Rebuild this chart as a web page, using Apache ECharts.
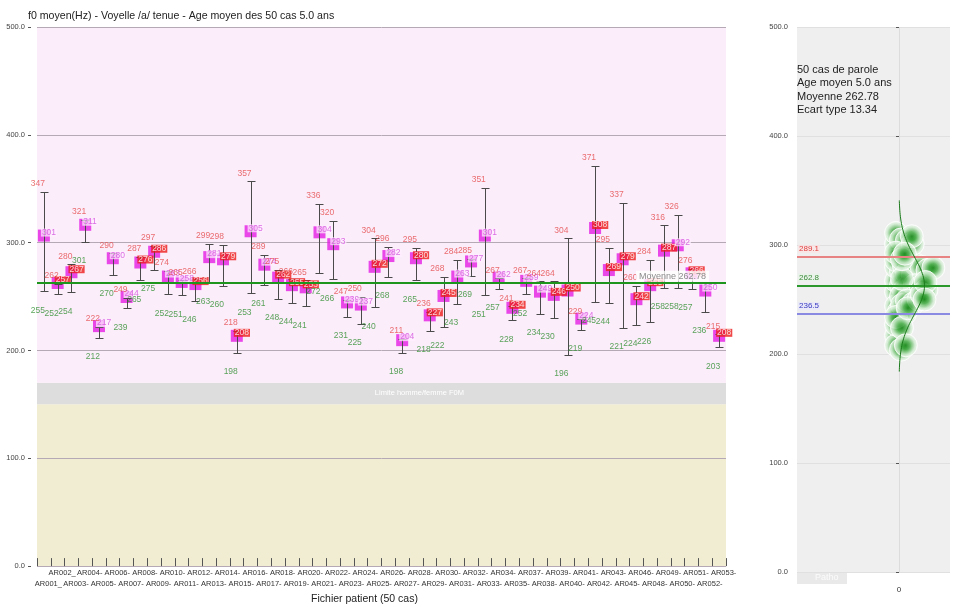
<!DOCTYPE html>
<html><head><meta charset="utf-8">
<script src="https://cdn.jsdelivr.net/npm/echarts@6/dist/echarts.min.js"></script>
<style>html,body{margin:0;padding:0;background:#fff}#c{width:953px;height:610px}</style>
</head><body><div id="c"></div>
<script>
// ---------- data ----------
const categories = ['AR001_','AR002_','AR003-','AR004-','AR005-','AR006-','AR007-','AR008-','AR009-','AR010-',
  'AR011-','AR012-','AR013-','AR014-','AR015-','AR016-','AR017-','AR018-','AR019-','AR020-',
  'AR021-','AR022-','AR023-','AR024-','AR025-','AR026-','AR027-','AR028-','AR029-','AR030-',
  'AR031-','AR032-','AR033-','AR034-','AR035-','AR037-','AR038-','AR039-','AR040-','AR041-',
  'AR042-','AR043-','AR045-','AR046-','AR048-','AR049-','AR050-','AR051-','AR052-','AR053-'];
const maxValues  = [347,262,280,321,222,290,249,287,297,274, 265,266,299,298,218,357,289,275,266,265,
  336,320,247,250,304,296,211,295,236,268, 284,285,351,267,241,267,264,264,304,229,
  371,295,337,260,284,316,326,276,263,215];
const minValues  = [255,252,254,301,212,270,239,265,275,252, 251,246,263,260,198,253,261,248,244,241,
  272,266,231,225,240,268,198,265,218,222, 243,269,251,257,228,252,234,230,196,219,
  245,244,221,224,226,258,258,257,236,203];
const meanValues = [301,257,267,311,217,280,244,276,286,263, 258,256,281,279,208,305,274,262,255,253,
  304,293,239,237,272,282,204,280,227,245, 263,277,301,262,234,259,249,246,250,224,
  308,269,279,242,255,287,292,266,250,208];
// 'R' = red value tag, 'M' = magenta value tag
const meanGroup = ['M','R','R','M','M','M','M','R','R','M', 'M','R','M','R','R','M','M','R','R','R',
  'M','M','M','M','R','M','M','R','R','R', 'M','M','M','M','R','M','M','R','R','M',
  'R','R','R','R','R','R','M','R','M','R'];
const zoneLimits = [0, 150, 170, 500];
const zoneText = 'Limite homme/femme F0M';
const overallMean = 262.78;
const upperLine = 289.1;
const meanLineLabel = 262.8;
const lowerLine = 236.5;
const stdDev = 13.34;
const caseCount = 50;
const ageMean = '5.0';
const yTicks = [0, 100, 200, 300, 400, 500];

// ---------- chart ----------
const FONT = 'Liberation Sans';
const chart = echarts.init(document.getElementById('c'));

const zoneData = [];
for (let k = 0; k < zoneLimits.length - 1; k++) zoneData.push([zoneLimits[k], zoneLimits[k + 1]]);
const zoneColors = ['#f1edd3', '#dddddd', '#fcedfb'];

// beeswarm layout of the means (pixel units on the right panel)
const pxPerUnit = 545 / 500;
function swarm(vals, minDist) {
  const placed = [];
  return vals.map(v => {
    const y = v * pxPerUnit;
    let dx = 0;
    for (let k = 0; k < 300; k++) {
      if (placed.every(p => Math.hypot(p[0] - dx, p[1] - y) >= minDist)) break;
      dx += 1;
    }
    placed.push([dx, y]);
    return [dx - 3, v];
  });
}
const swarmData = swarm(meanValues, 6);

// normal curve drawn from the shown mean and band
const sigma = (upperLine - lowerLine) / 2;
const curveData = [];
for (let v = overallMean - 3 * sigma; v <= overallMean + 3 * sigma + 0.01; v += 1) {
  curveData.push([26 * Math.exp(-Math.pow(v - overallMean, 2) / (2 * sigma * sigma)), v]);
}

const option = {
  animation: false,
  backgroundColor: '#ffffff',
  textStyle: { fontFamily: FONT },
  title: [
    { text: 'f0 moyen(Hz) - Voyelle /a/ tenue - Age moyen des ' + caseCount + ' cas ' + ageMean + ' ans',
      left: 23, top: 6, textStyle: { fontSize: 10.6, fontWeight: 'normal', color: '#222', fontFamily: FONT } },
    { text: caseCount + ' cas de parole\nAge moyen ' + ageMean + ' ans\nMoyenne ' + overallMean + '\nEcart type ' + stdDev,
      left: 792, top: 58, textStyle: { fontSize: 11, lineHeight: 13.5, fontWeight: 'normal', color: '#222', fontFamily: FONT } }
  ],
  grid: [
    { left: 37, right: 227, top: 27, bottom: 38 },
    { left: 797, right: 0, top: 27, bottom: 38, show: true, backgroundColor: '#efefef', borderWidth: 0 }
  ],
  xAxis: [
    { gridIndex: 0, type: 'category', data: categories, boundaryGap: true,
      axisLine: { show: false },
      axisTick: { show: true, inside: true, length: 8, lineStyle: { color: '#555' } },
      axisLabel: { interval: 0, fontSize: 7.5, color: '#333', lineHeight: 11, margin: 1, padding: [0, 0, 0, 9],
        formatter: (v, i) => (i % 2 === 1 ? v : '\n' + v) },
      splitLine: { show: false },
      name: 'Fichier patient (' + caseCount + ' cas)', nameLocation: 'middle', nameGap: 24,
      nameTextStyle: { fontSize: 10.5, color: '#222', padding: [0, 34, 0, 0] } },
    { gridIndex: 1, type: 'value', min: -104, max: 52, interval: 104,
      axisLine: { show: false }, axisTick: { show: false },
      splitLine: { show: true, lineStyle: { color: ['transparent', '#dcdcdc', 'transparent'] } },
      axisLabel: { formatter: v => (v === 0 ? '0' : ''), margin: 14, fontSize: 8, color: '#333' } }
  ],
  yAxis: [
    { gridIndex: 0, type: 'value', min: yTicks[0], max: yTicks[yTicks.length - 1], interval: 100, offset: 6,
      axisLine: { show: false },
      axisTick: { show: true, length: 3, lineStyle: { color: '#555' } },
      axisLabel: { formatter: v => v.toFixed(1), fontSize: 7.5, color: '#444', margin: 6 },
      splitLine: { show: true, lineStyle: { color: '#b5a9b5' } } },
    { gridIndex: 1, type: 'value', min: yTicks[0], max: yTicks[yTicks.length - 1], interval: 100, offset: 2,
      axisLine: { show: false },
      axisTick: { show: true, length: 3, lineStyle: { color: '#555' } },
      axisLabel: { formatter: v => v.toFixed(1), fontSize: 7.5, color: '#444', margin: 7 },
      splitLine: { show: true, lineStyle: { color: '#e0e0e0' } } }
  ],
  series: [
    { // background zones
      type: 'custom', xAxisIndex: 0, yAxisIndex: 0, z: -1, silent: true,
      data: zoneData,
      renderItem(params, api) {
        const cs = params.coordSys;
        const yTop = api.coord([0, api.value(1)])[1];
        const yBot = api.coord([0, api.value(0)])[1];
        const children = [{ type: 'rect', shape: { x: cs.x, y: yTop, width: cs.width, height: yBot - yTop },
          style: { fill: zoneColors[params.dataIndex] } }];
        if (params.dataIndex === 1) {
          children.push({ type: 'text', style: { text: zoneText, x: cs.x + cs.width * 0.555, y: (yTop + yBot) / 2 - 1,
            align: 'center', verticalAlign: 'middle', fill: '#ffffff', font: '7.5px ' + FONT } });
        }
        return { type: 'group', children };
      }
    },
    { // mean boxes
      type: 'scatter', xAxisIndex: 0, yAxisIndex: 0, z: 2, silent: true,
      symbol: 'rect', symbolSize: [12, 12], symbolOffset: [0, -6],
      itemStyle: { color: '#e31de3' },
      data: meanValues.map((v, i) => [i, v])
    },
    { // whiskers min-max
      type: 'custom', xAxisIndex: 0, yAxisIndex: 0, z: 3, silent: true,
      data: categories.map((c, i) => [i, maxValues[i], minValues[i]]),
      renderItem(params, api) {
        const top = api.coord([api.value(0), api.value(1)]);
        const bot = api.coord([api.value(0), api.value(2)]);
        const x = Math.round(top[0]) + 0.5;
        const yt = Math.round(top[1]) + 0.5, yb = Math.round(bot[1]) + 0.5;
        const st = { stroke: '#4a4a4a', lineWidth: 1 };
        return { type: 'group', children: [
          { type: 'line', shape: { x1: x, y1: yt, x2: x, y2: yb }, style: st },
          { type: 'line', shape: { x1: x - 4, y1: yt, x2: x + 4, y2: yt }, style: st },
          { type: 'line', shape: { x1: x - 4, y1: yb, x2: x + 4, y2: yb }, style: st }
        ] };
      }
    },
    { // mean value tags
      type: 'scatter', xAxisIndex: 0, yAxisIndex: 0, z: 4, silent: true,
      symbol: 'rect', symbolSize: [12, 12], symbolOffset: [0, -6],
      itemStyle: { color: 'transparent' },
      data: meanValues.map((v, i) => ({
        value: [i, v],
        label: meanGroup[i] === 'R'
          ? { color: '#ffffff', backgroundColor: '#ec1c1c' }
          : { color: '#d24fdb', backgroundColor: 'rgba(255,238,255,0.9)' }
      })),
      label: { show: true, position: [3, -1], align: 'left', verticalAlign: 'top', fontSize: 8.5, lineHeight: 8,
        padding: [0, 1, 0, 1], formatter: p => String(p.value[1]) }
    },
    { // max labels
      type: 'scatter', xAxisIndex: 0, yAxisIndex: 0, z: 4, silent: true,
      symbolSize: 1, itemStyle: { color: 'transparent' },
      data: maxValues.map((v, i) => [i, v]),
      label: { show: true, position: 'inside', align: 'right', verticalAlign: 'middle', offset: [1, -8],
        fontSize: 8.5, color: '#e34b4b', formatter: p => String(p.value[1]) }
    },
    { // min labels
      type: 'scatter', xAxisIndex: 0, yAxisIndex: 0, z: 4, silent: true,
      symbolSize: 1, itemStyle: { color: 'transparent' },
      data: minValues.map((v, i) => [i, v]),
      label: { show: true, position: 'inside', align: 'right', verticalAlign: 'middle', offset: [1, 19],
        fontSize: 8.5, color: '#2f8f2f', formatter: p => String(p.value[1]) }
    },
    { // overall mean line
      type: 'line', xAxisIndex: 0, yAxisIndex: 0, z: 6, silent: true,
      data: meanValues.map((v, i) => [i, v]), symbol: 'none', lineStyle: { opacity: 0 },
      markLine: { silent: true, symbol: 'none', animation: false,
        data: [{ yAxis: overallMean }],
        lineStyle: { color: '#1e961e', width: 2, type: 'solid' },
        label: { show: true, position: 'insideEndTop', formatter: 'Moyenne ' + overallMean, color: '#8c8c8c',
          fontSize: 9, backgroundColor: 'rgba(255,255,255,0.8)', padding: [1, 3], distance: [17, 1] } }
    },
    { // bubbles on right panel
      type: 'scatter', xAxisIndex: 1, yAxisIndex: 1, z: 2, silent: true,
      data: swarmData, symbolSize: 23,
      itemStyle: { color: { type: 'radial', x: 0.5, y: 0.5, r: 0.5, colorStops: [
        { offset: 0, color: '#0b7f0b' }, { offset: 0.35, color: '#3ea73e' },
        { offset: 0.75, color: '#cdeacd' }, { offset: 1, color: '#f6fcf6' }] },
        borderColor: '#ffffff', borderWidth: 1 }
    },
    { // normal curve + reference lines
      type: 'line', xAxisIndex: 1, yAxisIndex: 1, z: 5, silent: true,
      data: curveData, symbol: 'none', lineStyle: { color: '#1a7a1a', width: 1 },
      markLine: { silent: true, symbol: 'none', animation: false,
        data: [
          { yAxis: upperLine, lineStyle: { color: '#e88383', width: 2, type: 'solid' },
            label: { color: '#e03c3c', backgroundColor: 'rgba(255,225,225,0.6)' } },
          { yAxis: meanLineLabel, lineStyle: { color: '#2a982a', width: 2, type: 'solid' },
            label: { color: '#3a8a3a', backgroundColor: 'rgba(230,245,230,0.6)' } },
          { yAxis: lowerLine, lineStyle: { color: '#8a8ae2', width: 2, type: 'solid' },
            label: { color: '#3838c0', backgroundColor: 'rgba(228,228,255,0.6)' } }
        ],
        label: { show: true, position: 'insideStartTop', fontSize: 8, distance: [1, 4], padding: [0, 1],
          formatter: p => p.value.toFixed(1) } }
    }
  ],
  graphic: [
    { type: 'rect', left: 797, top: 572, shape: { width: 50, height: 12 }, style: { fill: '#e9e9e9' }, silent: true },
    { type: 'text', left: 815, top: 573, style: { text: 'Patho', fill: '#fbfbfb', font: '9px ' + FONT }, silent: true }
  ]
};
chart.setOption(option);
</script>
</body></html>
